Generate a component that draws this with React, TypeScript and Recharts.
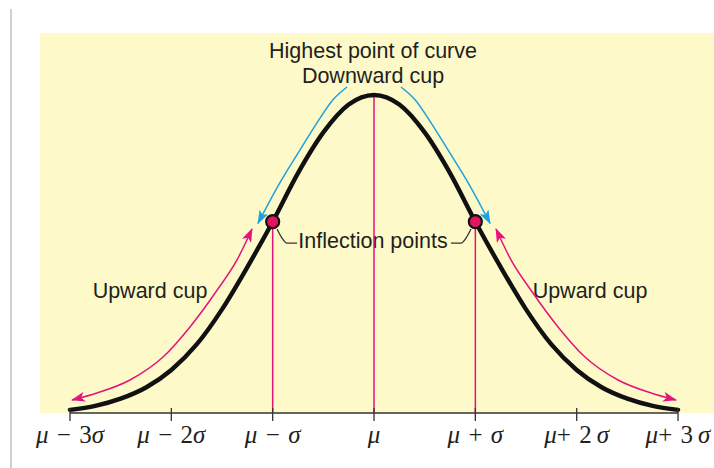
import { ComposedChart, XAxis, YAxis, Line, Scatter, CartesianGrid } from "recharts";

// x in sigma units, y in density units
const curveX = [-3, -2.75, -2.5, -2.25, -2, -1.75, -1.5, -1.25, -1, -0.75, -0.5, -0.25, 0, 0.25, 0.5, 0.75, 1, 1.25, 1.5, 1.75, 2, 2.25, 2.5, 2.75, 3];
const curveY = [0.004, 0.009, 0.018, 0.032, 0.054, 0.086, 0.13, 0.183, 0.24, 0.301, 0.352, 0.387, 0.399, 0.387, 0.352, 0.301, 0.24, 0.183, 0.13, 0.086, 0.054, 0.032, 0.018, 0.009, 0.004];

const tickValues = [-3, -2, -1, 0, 1, 2, 3];
const tickLabels = ["μ\u2004−\u20043σ", "μ\u2004−\u20042σ", "μ\u2004−\u2004σ", "μ", "μ\u2004+\u2004σ", "μ+\u20042\u2009σ", "μ+\u20043\u2009σ"];

const markerX = [-1, 0, 1];
const markerY = [0.24, 0.399, 0.24];

const inflectionX = [-1, 1];
const inflectionY = [0.24, 0.24];

const blueLeftX = [-1.145, -0.928, -0.73, -0.563, -0.405, -0.266];
const blueLeftY = [0.238, 0.289, 0.33, 0.364, 0.393, 0.409];
const blueRightX = [0.266, 0.405, 0.563, 0.73, 0.928, 1.145];
const blueRightY = [0.409, 0.393, 0.364, 0.33, 0.289, 0.238];

const pinkLeftX = [-2.98, -2.734, -2.408, -2.082, -1.816, -1.549, -1.352, -1.273, -1.204];
const pinkLeftY = [0.0163, 0.0251, 0.0414, 0.0702, 0.108, 0.154, 0.192, 0.212, 0.2308];
const pinkRightX = [1.204, 1.273, 1.352, 1.549, 1.816, 2.082, 2.408, 2.734, 2.98];
const pinkRightY = [0.2308, 0.212, 0.192, 0.154, 0.108, 0.0702, 0.0414, 0.0251, 0.0163];

const leaderLeftX = [-0.957, -0.908, -0.859, -0.76];
const leaderLeftY = [0.2308, 0.2195, 0.2132, 0.2132];
const leaderRightX = [0.76, 0.859, 0.908, 0.957];
const leaderRightY = [0.2132, 0.2132, 0.2195, 0.2308];

const pts = (xs: number[], ys: number[]) => xs.map((x, i) => ({ x, y: ys[i] }));

const PINK = "#E5137B";
const BLUE = "#1DA1DF";
const INK = "#231F20";
const SANS = "'Liberation Sans', Arial, sans-serif";

function SigmaTick(props: any) {
  const { x, y, payload } = props;
  const label = tickLabels[tickValues.indexOf(payload.value)] ?? "";
  return (
    <g>
      <line x1={x} x2={x} y1={y - 5} y2={y + 8} stroke="#333" strokeWidth={1.3} />
      <text x={x} y={y + 30} textAnchor="middle" fontFamily="'Liberation Serif', 'DejaVu Serif', serif" fontSize={25} fill={INK}>
        {[...label].map((c, i) => (
          <tspan key={i} fontStyle={c === "μ" || c === "σ" ? "italic" : "normal"}>{c}</tspan>
        ))}
      </text>
    </g>
  );
}

function InflectionDot(props: any) {
  const { cx, cy } = props;
  return <circle cx={cx} cy={cy} r={6.5} fill="#E2135F" stroke="#111" strokeWidth={2.2} />;
}

const lineBase = { dataKey: "y", dot: false, activeDot: false, isAnimationActive: false, legendType: "none" as const };

export default function App() {
  return (
    <div style={{ position: "absolute", left: 0, top: 0, width: 714, height: 468, background: "#fff" }}>
      <div style={{ position: "absolute", left: 10, top: 9, width: 1.5, height: 459, background: "#cfcfcf" }} />
      <ComposedChart width={714} height={468} margin={{ top: 33, left: 40, right: 0, bottom: 15 }} style={{ position: "absolute", left: 0, top: 0 }}>
        <defs>
          <marker id="arrowPink" viewBox="0 0 14 10" refX={13} refY={5} markerWidth={14} markerHeight={10} markerUnits="userSpaceOnUse" orient="auto-start-reverse">
            <path d="M0,0 L14,5 L0,10 L3.5,5 Z" fill={PINK} />
          </marker>
          <marker id="arrowBlue" viewBox="0 0 14 10" refX={13} refY={5} markerWidth={14} markerHeight={10} markerUnits="userSpaceOnUse" orient="auto-start-reverse">
            <path d="M0,0 L14,5 L0,10 L3.5,5 Z" fill={BLUE} />
          </marker>
        </defs>
        <CartesianGrid horizontal={false} vertical={false} fill="#FDF9C9" stroke="none" />
        <XAxis type="number" dataKey="x" domain={[-3.296, 3.355]} ticks={tickValues} axisLine={false} tickLine={false} tickSize={0} tickMargin={0} height={40} tick={<SigmaTick />} interval={0} />
        <YAxis type="number" domain={[0, 0.4767]} hide />

        <Line {...lineBase} data={pts([-3, 3], [0, 0])} type="linear" stroke="#333" strokeWidth={1.4} />
        {markerX.map((mx, i) => (
          <Line key={`v${i}`} {...lineBase} data={pts([mx, mx], [0, markerY[i]])} type="linear" stroke={PINK} strokeWidth={1.5} />
        ))}

        <Line {...lineBase} data={pts(blueLeftX, blueLeftY)} type="monotone" stroke={BLUE} strokeWidth={1.5} markerStart="url(#arrowBlue)" />
        <Line {...lineBase} data={pts(blueRightX, blueRightY)} type="monotone" stroke={BLUE} strokeWidth={1.5} markerEnd="url(#arrowBlue)" />
        <Line {...lineBase} data={pts(pinkLeftX, pinkLeftY)} type="monotone" stroke={PINK} strokeWidth={1.5} markerStart="url(#arrowPink)" markerEnd="url(#arrowPink)" />
        <Line {...lineBase} data={pts(pinkRightX, pinkRightY)} type="monotone" stroke={PINK} strokeWidth={1.5} markerStart="url(#arrowPink)" markerEnd="url(#arrowPink)" />

        <Line {...lineBase} data={pts(curveX, curveY)} type="monotone" stroke="#111" strokeWidth={4.4} strokeLinecap="round" />

        <Line {...lineBase} data={pts(leaderLeftX, leaderLeftY)} type="monotone" stroke="#333" strokeWidth={1.3} />
        <Line {...lineBase} data={pts(leaderRightX, leaderRightY)} type="monotone" stroke="#333" strokeWidth={1.3} />

        <Scatter data={pts(inflectionX, inflectionY)} dataKey="y" shape={<InflectionDot />} isAnimationActive={false} />

        <text x={373} y={58} textAnchor="middle" fontFamily={SANS} fontSize={21.5} fill={INK}>Highest point of curve</text>
        <text x={373} y={83} textAnchor="middle" fontFamily={SANS} fontSize={21.5} fill={INK}>Downward cup</text>
        <text x={373} y={248} textAnchor="middle" fontFamily={SANS} fontSize={21.5} fill={INK}>Inflection points</text>
        <text x={150} y={298} textAnchor="middle" fontFamily={SANS} fontSize={21.5} fill={INK}>Upward cup</text>
        <text x={590} y={298} textAnchor="middle" fontFamily={SANS} fontSize={21.5} fill={INK}>Upward cup</text>
      </ComposedChart>
    </div>
  );
}
